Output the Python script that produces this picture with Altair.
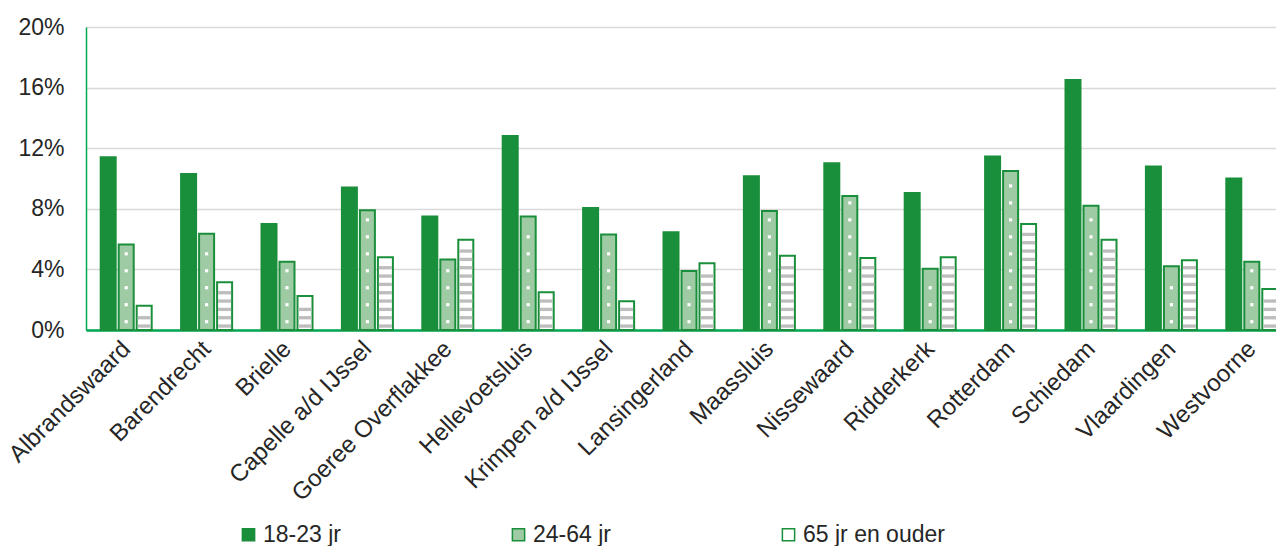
import json
import altair as alt
import pandas as pd

gemeenten = ["Albrandswaard", "Barendrecht", "Brielle", "Capelle a/d IJssel",
             "Goeree Overflakkee", "Hellevoetsluis", "Krimpen a/d IJssel",
             "Lansingerland", "Maassluis", "Nissewaard", "Ridderkerk",
             "Rotterdam", "Schiedam", "Vlaardingen", "Westvoorne"]
groepen = ["18-23 jr", "24-64 jr", "65 jr en ouder"]

jong = [11.4, 10.3, 7.0, 9.4, 7.5, 12.8, 8.05, 6.45, 10.15, 11.0, 9.05, 11.45, 16.5, 10.8, 10.0]
midden = [5.65, 6.35, 4.5, 7.9, 4.65, 7.5, 6.3, 3.9, 7.85, 8.85, 4.05, 10.5, 8.2, 4.2, 4.5]
oud = [1.6, 3.15, 2.25, 4.8, 5.95, 2.5, 1.9, 4.4, 4.9, 4.75, 4.8, 7.0, 5.95, 4.6, 2.7]

DARK = "#1a8f3b"
LIGHT = "#9fcba4"
AXIS = "#00a650"
FONT = "Liberation Sans"
TEXT = "#262626"

W = 1190            # plot width in px
STEP_PX = 80.4      # px per municipality
OFF = 18 / STEP_PX  # offset between bars within a group (in category units)
BAR_W = 15

rows = []
for i, (g, a, b, c) in enumerate(zip(gemeenten, jong, midden, oud)):
    for j, v in enumerate((a, b, c)):
        rows.append({"gemeente": g, "idx": i, "pos": i + (j - 1) * OFF,
                     "groep": groepen[j], "waarde": v})
df = pd.DataFrame(rows)

# pattern helpers derived from the values (decoration only)
dots = []
for i, b in enumerate(midden):
    lvl = 0.55
    while lvl < b - 0.4:
        dots.append({"pos": i, "y": lvl})
        lvl += 1.12
dots_df = pd.DataFrame(dots)

stripes = []
for i, c in enumerate(oud):
    lvl = 0.15
    while lvl + 0.2 < c - 0.25:
        stripes.append({"pos": i + OFF, "y0": lvl, "y1": lvl + 0.22})
        lvl += 0.55
stripes_df = pd.DataFrame(stripes)

x_scale = alt.Scale(domain=[-0.5, -0.5 + W / STEP_PX], nice=False, zero=False, padding=0)
label_expr = json.dumps(gemeenten) + "[datum.value]"
x_axis = alt.Axis(title=None, values=list(range(len(gemeenten))), labelExpr=label_expr,
                  labelAngle=-45, labelAlign="right", labelBaseline="middle",
                  labelPadding=15, ticks=False, grid=False, labelFontSize=24,
                  labelFont=FONT, labelColor=TEXT, domainColor=AXIS, domainWidth=2.5,
                  labelLimit=400, labelOverlap=False, labelBound=False, labelFlush=False)
y_scale = alt.Scale(domain=[0, 20])

bars = alt.Chart(df).mark_bar(stroke=DARK, strokeWidth=2, width=BAR_W).encode(
    x=alt.X("pos:Q", scale=x_scale, axis=x_axis),
    y=alt.Y("waarde:Q", scale=y_scale,
            axis=alt.Axis(title=None, values=[0, 4, 8, 12, 16, 20],
                          labelExpr="datum.value + '%'", ticks=False,
                          labelPadding=22, labelFontSize=23, labelFont=FONT,
                          labelColor=TEXT, grid=True, gridColor="#d9d9d9", gridWidth=1.5,
                          domainColor=AXIS, domainWidth=1.5)),
    fill=alt.Fill("groep:N", scale=alt.Scale(domain=groepen, range=[DARK, LIGHT, "#ffffff"]),
                  legend=alt.Legend(title=None, orient="none", direction="horizontal",
                                    legendX=151, legendY=496, symbolType="square",
                                    symbolSize=150, symbolStrokeColor=DARK,
                                    symbolStrokeWidth=1.5, labelFontSize=23,
                                    labelFont=FONT, labelColor=TEXT, labelOffset=3,
                                    columnPadding=166)),
)

stripe_layer = alt.Chart(stripes_df).mark_bar(color="#bdbdbd", width=BAR_W - 2).encode(
    x=alt.X("pos:Q", scale=x_scale),
    y=alt.Y("y0:Q", scale=y_scale),
    y2="y1:Q",
)

dot_layer = alt.Chart(dots_df).mark_square(color="#ffffff", size=10, opacity=1).encode(
    x=alt.X("pos:Q", scale=x_scale),
    y=alt.Y("y:Q", scale=y_scale),
)

chart = alt.layer(bars, stripe_layer, dot_layer).properties(
    width=W, height=303,
    autosize=alt.AutoSizeParams(type="none"),
    padding={"left": 78, "top": 19, "right": 0, "bottom": 216},
).configure_view(stroke=None)

chart.save("out.html", embed_options={"renderer": "svg", "actions": False})
